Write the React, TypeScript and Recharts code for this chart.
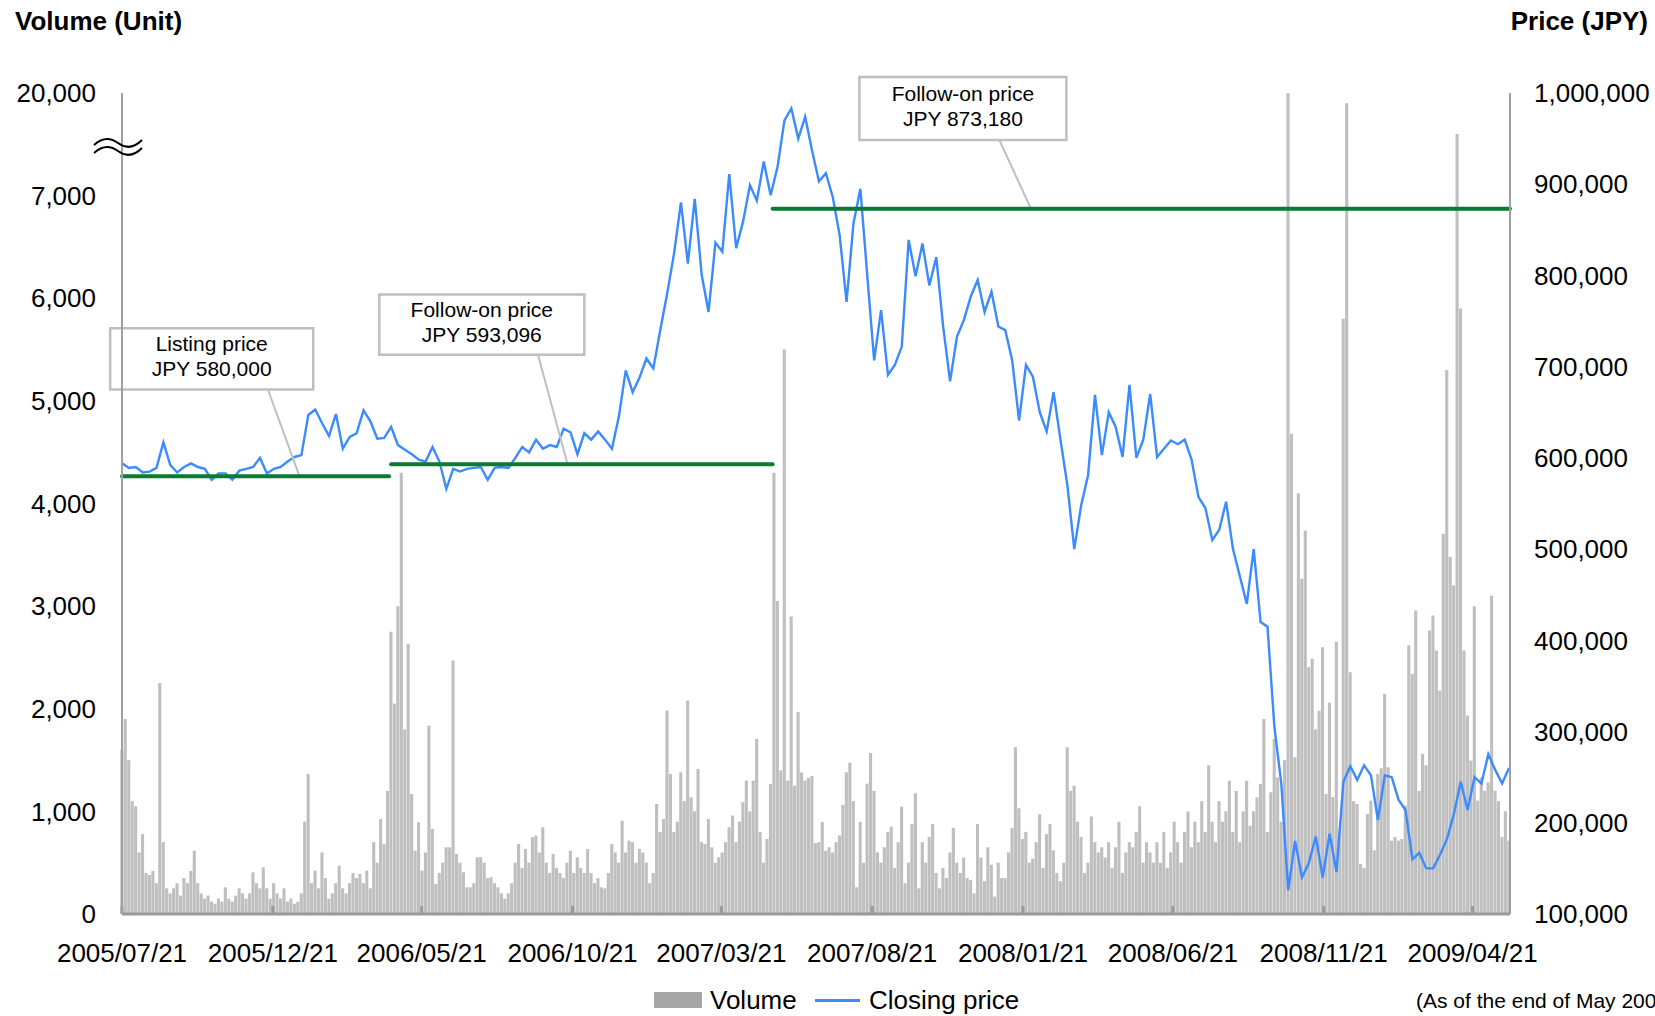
import {
  Bar,
  ComposedChart,
  Line,
  ReferenceArea,
  ReferenceLine,
  XAxis,
  YAxis,
} from 'recharts'

const FONT = 'Arial, "Liberation Sans", sans-serif'

// x runs in calendar days from the listing date up to the end of May 2009
const LISTING_DATE = '2005/07/21'
const LAST_DAY = 1408

const tickLabels = [
  '2005/07/21', '2005/12/21', '2006/05/21', '2006/10/21', '2007/03/21',
  '2007/08/21', '2008/01/21', '2008/06/21', '2008/11/21', '2009/04/21',
]

// left axis is broken above 7,000: the top tick stands for 20,000
const volumeTicks = [0, 1000, 2000, 3000, 4000, 5000, 6000, 7000, 8000]
const volumeTickLabels = ['0', '1,000', '2,000', '3,000', '4,000', '5,000', '6,000', '7,000', '20,000']
const priceTicks = [100000, 200000, 300000, 400000, 500000, 600000, 700000, 800000, 900000, 1000000]

// weekly closing price, JPY thousands
const closeK = [
  594, 589, 590, 584, 585, 589, 617, 592, 584, 590,
  594, 590, 588, 576, 583, 583, 576, 586, 588, 590,
  600, 583, 588, 590, 596, 601, 603, 647, 653, 638,
  624, 648, 610, 623, 627, 652, 640, 621, 622, 634,
  614, 609, 604, 598, 596, 612, 596, 566, 588, 585,
  588, 589, 590, 576, 589, 590, 589, 600, 612, 606,
  620, 610, 614, 612, 632, 628, 604, 627, 620, 629,
  620, 610, 645, 696, 672, 688, 709, 698, 740, 780,
  824, 880, 813, 884, 801, 760, 836, 826, 911, 830,
  859, 899, 882, 925, 888, 919, 970, 983, 950, 974,
  937, 903, 912, 886, 844, 771, 857, 895, 800, 707,
  762, 691, 702, 722, 839, 799, 835, 789, 820, 744,
  684, 733, 751, 777, 795, 760, 782, 744, 740, 707,
  641, 702, 689, 650, 629, 672, 620, 570, 500, 548,
  581, 669, 603, 650, 634, 601, 680, 600, 620, 670,
  601, 610, 619, 615, 620, 598, 557, 545, 510, 521,
  552, 500, 470, 440, 500, 420, 415, 305, 243, 126,
  180, 140, 156, 185, 140, 188, 146, 245, 262, 247,
  263, 252, 203, 252, 250, 225, 214, 160, 167, 150,
  150, 165, 182, 209, 245, 214, 250, 243, 275, 258,
  243, 260,
]

// volume, sampled twice a week (units)
const volume = [
  1600, 1900, 1500, 1100, 1050, 600, 780, 400, 380, 420,
  300, 2250, 700, 250, 200, 250, 300, 180, 350, 300,
  420, 617, 300, 200, 150, 180, 120, 100, 150, 120,
  260, 150, 120, 180, 250, 200, 150, 200, 406, 300,
  250, 455, 250, 150, 300, 200, 150, 250, 120, 150,
  100, 120, 200, 900, 1365, 300, 422, 250, 600, 350,
  150, 200, 300, 471, 250, 200, 300, 400, 350, 390,
  300, 422, 250, 700, 500, 926, 680, 1200, 2750, 2050,
  3000, 4300, 1800, 2630, 1170, 617, 894, 422, 600, 1836,
  829, 292, 400, 500, 650, 650, 2470, 585, 500, 406,
  260, 260, 300, 553, 553, 500, 350, 358, 300, 260,
  200, 150, 200, 300, 500, 683, 450, 634, 500, 748,
  764, 600, 845, 500, 400, 585, 450, 400, 350, 500,
  617, 400, 553, 450, 400, 634, 400, 300, 350, 260,
  250, 400, 683, 600, 500, 910, 600, 715, 700, 500,
  634, 600, 500, 300, 400, 1072, 800, 926, 1982, 1365,
  800, 900, 1381, 1100, 2080, 1137, 1000, 1413, 700, 683,
  926, 650, 500, 553, 600, 700, 845, 959, 700, 900,
  1089, 1300, 1000, 1300, 1706, 800, 500, 731, 1267, 4300,
  3050, 1400, 5500, 1300, 2900, 1250, 1970, 1380, 1300, 1325,
  1344, 691, 700, 896, 616, 650, 600, 700, 765, 1064,
  1381, 1475, 1100, 261, 896, 500, 1270, 1568, 1200, 600,
  500, 650, 800, 850, 450, 700, 1046, 300, 500, 877,
  1176, 250, 700, 500, 750, 877, 400, 250, 450, 350,
  600, 840, 500, 400, 550, 350, 330, 200, 877, 550,
  320, 650, 480, 170, 500, 350, 350, 600, 840, 1624,
  1030, 730, 800, 500, 540, 700, 971, 450, 780, 877,
  620, 400, 320, 500, 1624, 1200, 1250, 900, 750, 400,
  500, 950, 700, 600, 650, 550, 700, 450, 650, 900,
  400, 600, 700, 650, 800, 1050, 500, 700, 600, 500,
  700, 500, 800, 450, 600, 900, 700, 500, 800, 1000,
  650, 900, 700, 1100, 800, 1450, 900, 700, 1100, 900,
  1000, 1300, 800, 1200, 700, 1000, 1300, 860, 1000, 1137,
  1267, 1900, 800, 1186, 1706, 1330, 900, 1500, 8000, 4680,
  1527, 4100, 3266, 3737, 2405, 2486, 1800, 1980, 2600, 1170,
  2060, 1140, 2650, 810, 5800, 7900, 2356, 1100, 1072, 487,
  450, 975, 1105, 620, 1365, 1420, 2145, 1430, 715, 750,
  715, 730, 1056, 2616, 2340, 2957, 1200, 1560, 1450, 2762,
  2908, 2567, 2177, 3705, 5300, 3480, 3200, 7600, 5900, 2567,
  1934, 1495, 3000, 1105, 1332, 1200, 1283, 3100, 1200, 1100,
  750, 1000, 715,
]

// issue prices, drawn from the issue date to the next offering (days)
const offerings = [
  { from: 0, to: 271, price: 580000 },
  { from: 273, to: 660, price: 593096 },
  { from: 660, to: LAST_DAY, price: 873180 },
]

const callouts = [
  { lines: ['Listing price', 'JPY 580,000'], x1: -12, x2: 194, top: 742000, bottom: 675000, from: 148, to: 180, target: 580000 },
  { lines: ['Follow-on price', 'JPY 593,096'], x1: 261, x2: 469, top: 779000, bottom: 713000, from: 422, to: 452, target: 593096 },
  { lines: ['Follow-on price', 'JPY 873,180'], x1: 748, x2: 958, top: 1017500, bottom: 948500, from: 890, to: 922, target: 873180 },
]

const toDay = (s: string) =>
  Math.round((Date.parse(s.replace(/\//g, '-')) - Date.parse(LISTING_DATE.replace(/\//g, '-'))) / 86400000)
const tickDays = tickLabels.map(toDay)

const rows = volume.map((v, j) => ({
  day: j * 3.5,
  volume: v,
  price: j % 2 === 0 && closeK[j / 2] != null ? closeK[j / 2] * 1000 : null,
}))

function CalloutText(props: any) {
  const { x, y, width, height } = props.viewBox
  const cx = x + width / 2
  const cy = y + height / 2
  return (
    <text x={cx} y={cy - 8} textAnchor="middle" fontSize={21} fontFamily={FONT} fill="#000">
      <tspan x={cx}>{props.lines[0]}</tspan>
      <tspan x={cx} dy={25.5}>{props.lines[1]}</tspan>
    </text>
  )
}

const tickStyle = { fontSize: 26, fill: '#000', fontFamily: FONT }

export default function App() {
  return (
    <div style={{ position: 'absolute', left: 0, top: 0, width: 1655, height: 1016, overflow: 'hidden', background: '#fff', fontFamily: FONT }}>
      <ComposedChart width={1655} height={1016} data={rows} margin={{ top: 93, right: 0, bottom: 0, left: 0 }}>
        <XAxis
          dataKey="day"
          type="number"
          domain={[0, LAST_DAY]}
          ticks={tickDays}
          interval={0}
          tickFormatter={(d) => tickLabels[tickDays.indexOf(d)]}
          tick={tickStyle}
          height={102}
          stroke="#9a9a9a"
          strokeWidth={3}
          tickSize={-8}
          tickMargin={38}
        />
        <YAxis
          yAxisId="left"
          domain={[0, 8000]}
          allowDataOverflow
          ticks={volumeTicks}
          interval={0}
          tickFormatter={(v) => volumeTickLabels[volumeTicks.indexOf(v)]}
          tick={tickStyle}
          tickLine={false}
          tickMargin={20}
          width={122}
          stroke="#a0a0a0"
          strokeWidth={2}
        />
        <YAxis
          yAxisId="right"
          orientation="right"
          domain={[100000, 1000000]}
          ticks={priceTicks}
          interval={0}
          tickFormatter={(v) => v.toLocaleString('en-US')}
          tick={tickStyle}
          tickLine={false}
          tickMargin={18}
          width={145}
          stroke="#a0a0a0"
          strokeWidth={2}
        />
        <Bar yAxisId="left" dataKey="volume" fill="#bfbfbf" barSize={4} isAnimationActive={false} />
        <Line
          yAxisId="right"
          dataKey="price"
          type="linear"
          stroke="#3b8bff"
          strokeWidth={2.4}
          dot={false}
          activeDot={false}
          connectNulls
          isAnimationActive={false}
        />
        {callouts.map((c) => (
          <ReferenceLine
            key={'leader' + c.from}
            yAxisId="right"
            segment={[{ x: c.from, y: c.bottom }, { x: c.to, y: c.target }]}
            stroke="#bfbfbf"
            strokeWidth={2}
            ifOverflow="visible"
          />
        ))}
        {offerings.map((o) => (
          <ReferenceLine
            key={'issue' + o.from}
            yAxisId="right"
            segment={[{ x: o.from, y: o.price }, { x: o.to, y: o.price }]}
            stroke="#0b7a33"
            strokeWidth={4}
            strokeLinecap="round"
            ifOverflow="visible"
          />
        ))}
        {callouts.map((c) => (
          <ReferenceArea
            key={'box' + c.from}
            yAxisId="right"
            x1={c.x1}
            x2={c.x2}
            y1={c.bottom}
            y2={c.top}
            fill="#fff"
            fillOpacity={1}
            stroke="#bfbfbf"
            strokeWidth={2.5}
            ifOverflow="visible"
            label={(p: any) => <CalloutText {...p} lines={c.lines} />}
          />
        ))}
      </ComposedChart>

      <svg width={1655} height={1016} style={{ position: 'absolute', left: 0, top: 0, pointerEvents: 'none' }}>
        <path d="M 94 145 Q 106 134 118 143 T 142 140" fill="none" stroke="#000" strokeWidth={2} />
        <path d="M 94 153 Q 106 142 118 151 T 142 148" fill="none" stroke="#000" strokeWidth={2} />
      </svg>

      <div style={{ position: 'absolute', left: 15, top: 8, fontSize: 26, lineHeight: 1, fontWeight: 'bold', whiteSpace: 'nowrap' }}>
        Volume (Unit)
      </div>
      <div style={{ position: 'absolute', right: 7, top: 8, fontSize: 26, lineHeight: 1, fontWeight: 'bold', whiteSpace: 'nowrap' }}>
        Price (JPY)
      </div>

      <div style={{ position: 'absolute', left: 654, top: 992, width: 48, height: 16, background: '#a5a5a5' }} />
      <div style={{ position: 'absolute', left: 710, top: 987, fontSize: 26, lineHeight: 1, whiteSpace: 'nowrap' }}>Volume</div>
      <div style={{ position: 'absolute', left: 815, top: 999, width: 45, height: 3, background: '#3b8bff' }} />
      <div style={{ position: 'absolute', left: 869, top: 987, fontSize: 26, lineHeight: 1, whiteSpace: 'nowrap' }}>Closing price</div>
      <div style={{ position: 'absolute', left: 1416, top: 990, fontSize: 21, lineHeight: 1, whiteSpace: 'nowrap' }}>
        (As of the end of May 2009)
      </div>
    </div>
  )
}
